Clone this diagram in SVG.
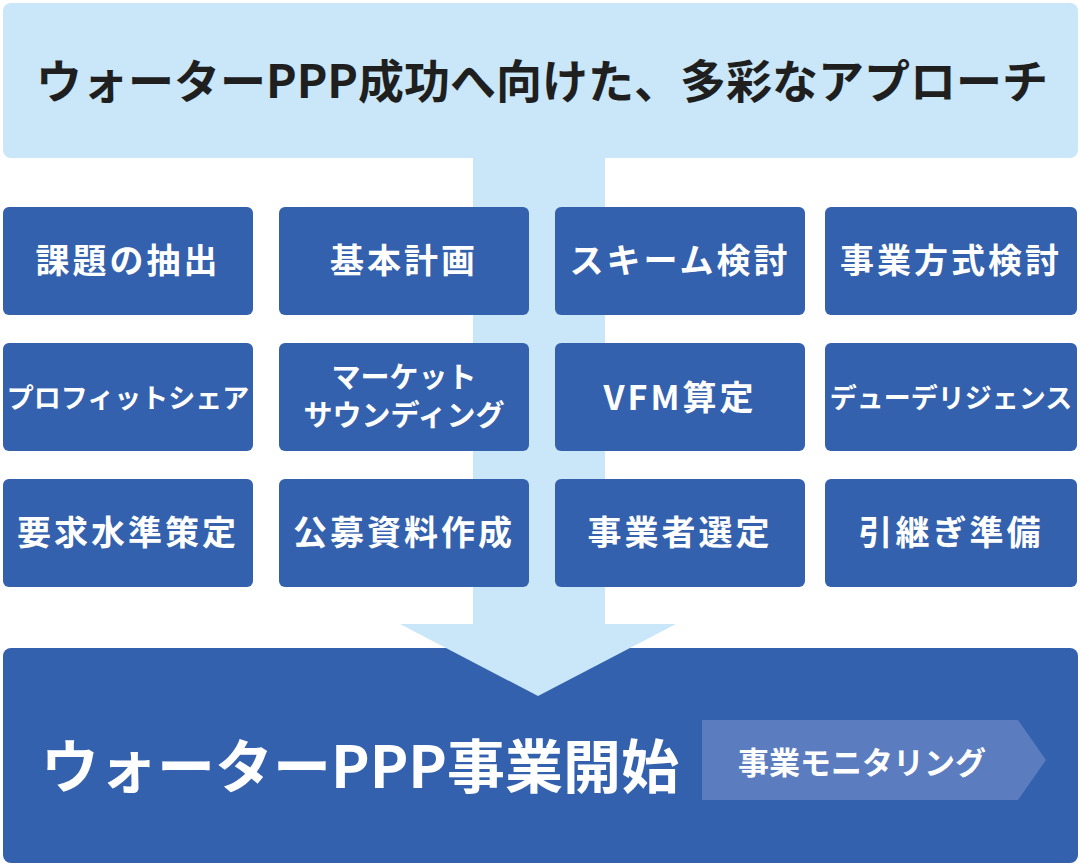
<svg xmlns="http://www.w3.org/2000/svg" width="1082" height="866" viewBox="0 0 1082 866">
<style>
.n{fill:#3461ad}
.t{fill:#fff;font-family:"Noto Sans CJK JP","Noto Sans",sans-serif;font-weight:bold;text-anchor:middle}
.a{font-size:34px;letter-spacing:3px}
.b{font-size:27px}
</style>
<rect width="1082" height="866" fill="#fff"/>
<g id="banner"><rect x="3" y="3" width="1075" height="155" rx="8" fill="#c9e7f8"/>
<text x="542" y="98" font-family="'Noto Sans CJK JP','Noto Sans',sans-serif" font-weight="bold" font-size="46" fill="#1f1f1f" text-anchor="middle">ウォーターPPP成功へ向けた、多彩なアプローチ</text></g>
<g id="connectors"><rect x="473" y="150" width="132" height="480" fill="#c9e7f8"/></g>
<g id="bottom"><rect x="3" y="648" width="1075" height="215" rx="8" class="n"/>
<polygon points="400,624 676,624 538,696" fill="#c9e7f8"/>
<text x="360" y="788" class="t" font-size="58">ウォーターPPP事業開始</text>
<polygon points="702,720 1018,720 1046,760 1018,800 702,800" fill="#5b7dbf"/>
<text x="862" y="774" class="t" font-size="31">事業モニタリング</text></g>
<g id="n1"><rect x="3" y="207" width="250" height="108" rx="6" class="n"/><text x="128" y="273" class="t a">課題の抽出</text></g>
<g id="n2"><rect x="279" y="207" width="250" height="108" rx="6" class="n"/><text x="404" y="273" class="t a">基本計画</text></g>
<g id="n3"><rect x="555" y="207" width="250" height="108" rx="6" class="n"/><text x="680" y="273" class="t a">スキーム検討</text></g>
<g id="n4"><rect x="825" y="207" width="252" height="108" rx="6" class="n"/><text x="951" y="273" class="t a">事業方式検討</text></g>
<g id="n5"><rect x="3" y="343" width="250" height="108" rx="6" class="n"/><text x="128" y="408" class="t b">プロフィットシェア</text></g>
<g id="n6"><rect x="279" y="343" width="250" height="108" rx="6" class="n"/><text x="404" y="388" class="t" font-size="29">マーケット</text><text x="404" y="426" class="t" font-size="29">サウンディング</text></g>
<g id="n7"><rect x="555" y="343" width="250" height="108" rx="6" class="n"/><text x="680" y="410" class="t a">VFM算定</text></g>
<g id="n8"><rect x="825" y="343" width="252" height="108" rx="6" class="n"/><text x="951" y="408" class="t b">デューデリジェンス</text></g>
<g id="n9"><rect x="3" y="479" width="250" height="108" rx="6" class="n"/><text x="128" y="545" class="t a">要求水準策定</text></g>
<g id="n10"><rect x="279" y="479" width="250" height="108" rx="6" class="n"/><text x="404" y="545" class="t a">公募資料作成</text></g>
<g id="n11"><rect x="555" y="479" width="250" height="108" rx="6" class="n"/><text x="680" y="545" class="t a">事業者選定</text></g>
<g id="n12"><rect x="825" y="479" width="252" height="108" rx="6" class="n"/><text x="951" y="545" class="t a">引継ぎ準備</text></g>
</svg>
